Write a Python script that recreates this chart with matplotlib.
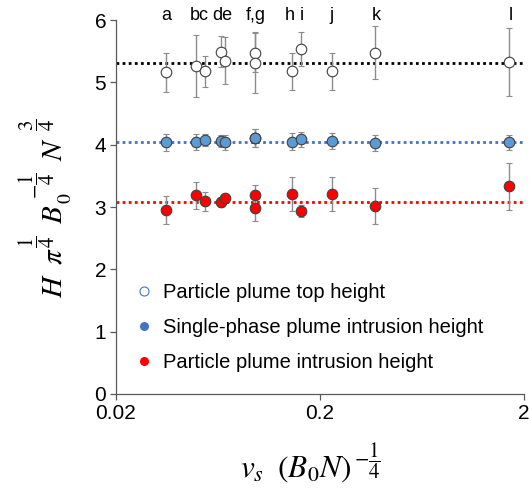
import matplotlib
matplotlib.use("Agg")
import matplotlib.pyplot as plt
from matplotlib.lines import Line2D
from matplotlib.transforms import IdentityTransform
import numpy as np

# ---- data ----
x = [0.0352, 0.0493, 0.0546, 0.0654, 0.0684, 0.0964, 0.0964, 0.146, 0.162, 0.230, 0.375, 1.70]

top_h = [5.16, 5.26, 5.18, 5.49, 5.35, 5.48, 5.32, 5.18, 5.54, 5.18, 5.48, 5.33]
top_err = [0.32, 0.50, 0.25, 0.25, 0.38, 0.31, 0.49, 0.30, 0.27, 0.30, 0.43, 0.54]

single_h = [4.04, 4.04, 4.08, 4.06, 4.04, 4.11, 4.11, 4.05, 4.09, 4.06, 4.03, 4.04]
single_err = [0.14, 0.13, 0.10, 0.10, 0.12, 0.15, 0.15, 0.14, 0.12, 0.13, 0.13, 0.12]

intr_h = [2.95, 3.19, 3.09, 3.08, 3.14, 3.20, 2.98, 3.21, 2.94, 3.21, 3.02, 3.33]
intr_err = [0.22, 0.22, 0.15, 0.08, 0.06, 0.16, 0.20, 0.28, 0.10, 0.28, 0.29, 0.37]

mean_top = 5.32
mean_single = 4.04
mean_intr = 3.08

case_labels = ["a", "bc", "de", "f,g", "h", "i", "j", "k", "l"]
case_label_x = [0.0352, 0.0515, 0.0665, 0.0975, 0.142, 0.164, 0.228, 0.380, 1.72]

legend_labels = ["Particle plume top height",
                 "Single-phase plume intrusion height",
                 "Particle plume intrusion height"]

# ---- style ----
plt.rcParams['font.family'] = ['Liberation Sans', 'DejaVu Sans']
plt.rcParams['mathtext.fontset'] = 'stix'

W, H = 529, 491
fig = plt.figure(figsize=(W / 100, H / 100), dpi=100)
ax = fig.add_axes([0.219, 0.1976, 0.771, 0.7614])

spine_c = '#595959'
err_c = '#8c8c8c'
ms = 7.6

def series(y, e, face):
    ax.errorbar(x, y, yerr=e, fmt='o', ms=ms, mfc=face, mec='#404040', mew=0.8,
                ecolor=err_c, elinewidth=1.0, capsize=2, capthick=1.0, zorder=3)

ax.axhline(mean_top, color='black', ls=(0, (1, 1.2)), lw=2.0, zorder=1, clip_on=False)
ax.axhline(mean_single, color='#4472C4', ls=(0, (1, 1.2)), lw=2.0, zorder=1, clip_on=False)
ax.axhline(mean_intr, color='#FF0000', ls=(0, (1, 1.2)), lw=2.0, zorder=1, clip_on=False)

series(top_h, top_err, 'white')
series(single_h, single_err, '#5B9BD5')
series(intr_h, intr_err, '#FF0000')

ax.set_xscale('log')
ax.set_xlim(0.02, 2.0)
ax.set_ylim(0, 6)
ax.set_xticks([0.02, 0.2, 2])
ax.set_xticklabels(['0.02', '0.2', '2'])
ax.xaxis.set_minor_locator(matplotlib.ticker.NullLocator())
ax.set_yticks([0, 1, 2, 3, 4, 5, 6])

for s in ['top', 'right']:
    ax.spines[s].set_visible(False)
for s in ['left', 'bottom']:
    ax.spines[s].set_color(spine_c)
    ax.spines[s].set_linewidth(0.9)
ax.tick_params(axis='both', direction='out', length=4, width=0.9, color=spine_c,
               labelsize=15, labelcolor='black', pad=3)

for lab, lx in zip(case_labels, case_label_x):
    ax.text(lx, 6.0, lab, ha='center', va='baseline', fontsize=13)

# ---- axis titles built from pieces (pixel positions, y measured from top) ----
def piece(s, px, py_top, size, ha='left', va='baseline', rot=0):
    fig.text(px, H - py_top, s, fontsize=size, ha=ha, va=va, rotation=rot,
             rotation_mode='anchor', transform=IdentityTransform())

big = 21
small = 15
# y label (rotated, reading upward)
piece(r'$H$', 62, 298, big, rot=90)
piece(r'$\pi$', 62, 265, big, rot=90)
piece(r'$\dfrac{1}{4}$', 37, 242, small, ha='center', va='center', rot=90)
piece(r'$B$', 62, 224, big, rot=90)
piece(r'$0$', 71, 204, 14, rot=90)
piece(r'$-\dfrac{1}{4}$', 37, 186, small, ha='center', va='center', rot=90)
piece(r'$N$', 62, 161, big, rot=90)
piece(r'$\dfrac{3}{4}$', 37, 125, small, ha='center', va='center', rot=90)

# x label
piece(r'$v_s\;\ (B_0N)$', 240, 477, 22.5)
piece(r'$-\dfrac{1}{4}$', 354, 461, small, ha='left', va='center')

handles = [
    Line2D([], [], ls='none', marker='o', ms=6.5, mfc='white', mec='#4472C4', mew=0.8),
    Line2D([], [], ls='none', marker='o', ms=6.5, mfc='#4472C4', mec='#4472C4', mew=0),
    Line2D([], [], ls='none', marker='o', ms=6.5, mfc='#FF0000', mec='#FF0000', mew=0),
]
ax.legend(handles, legend_labels, loc='lower left', bbox_to_anchor=(0.02, 0.027),
          frameon=False, fontsize=14.5, handlelength=0.8, handletextpad=0.55,
          labelspacing=0.8, borderaxespad=0.2)

fig.savefig('out.png', dpi=100)
